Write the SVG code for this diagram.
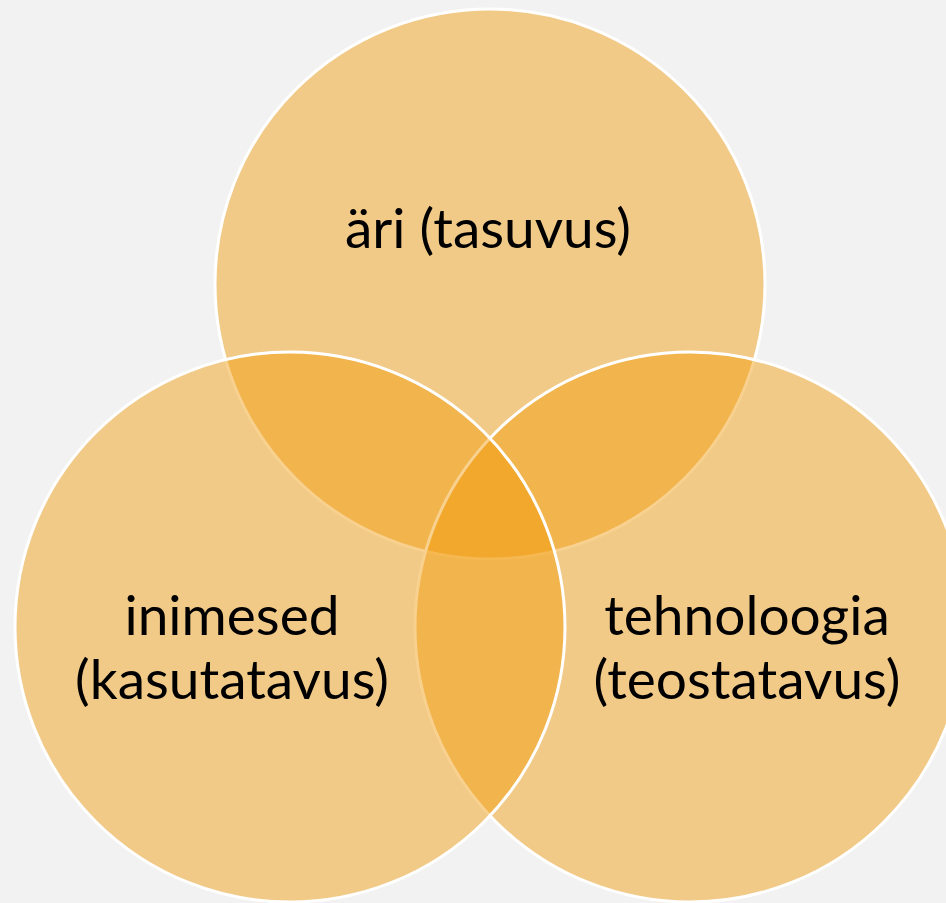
<svg xmlns="http://www.w3.org/2000/svg" width="946" height="903" viewBox="0 0 946 903">
<style>
.c{fill:#f29a06;fill-opacity:0.45;stroke:#ffffff;stroke-width:3}
.t{font-family:Lato,"Open Sans","Liberation Sans",sans-serif;font-size:55px;fill:#000;text-anchor:middle}
</style>
<rect width="946" height="903" fill="#f2f2f2"/>
<g id="node-business"><circle class="c" cx="490" cy="284" r="275"/></g>
<g id="node-technology"><circle class="c" cx="690" cy="627" r="275"/></g>
<g id="node-people"><circle class="c" cx="290" cy="627" r="275"/></g>
<g id="connectors"></g>
<g id="labels">
<text class="t" x="488" y="248">äri (tasuvus)</text>
<text class="t" x="232" y="635">inimesed</text>
<text class="t" x="232" y="699">(kasutatavus)</text>
<text class="t" x="747" y="635">tehnoloogia</text>
<text class="t" x="747" y="699">(teostatavus)</text>
</g>
</svg>
